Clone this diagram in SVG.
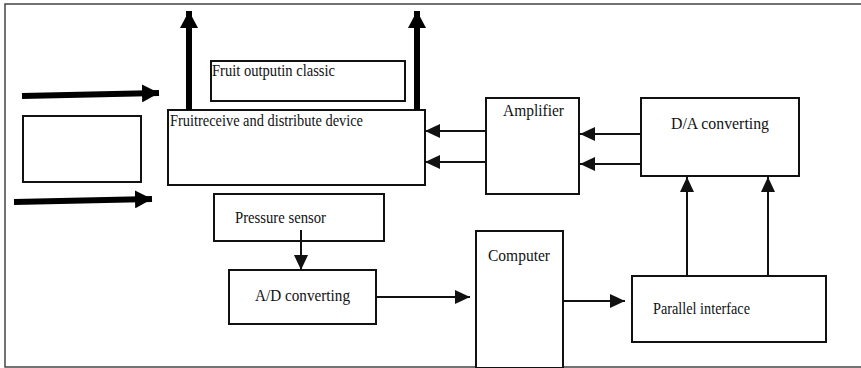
<svg xmlns="http://www.w3.org/2000/svg" width="861" height="368" viewBox="0 0 861 368">
<style>
.box{fill:#fff;stroke:#111;stroke-width:2}
text{font-family:'Liberation Serif','Times New Roman',serif;font-size:17px;fill:#111}
.thin{stroke:#111;stroke-width:2;fill:none}
.thick{stroke:#000;stroke-width:6;fill:none}
</style>
<defs>
<marker id="ah" markerUnits="userSpaceOnUse" markerWidth="16" markerHeight="16" refX="15" refY="7" orient="auto"><path d="M0 0 L15 7 L0 14 Z" fill="#111"/></marker>
<marker id="ahT" markerUnits="userSpaceOnUse" markerWidth="18" markerHeight="18" refX="17" refY="9" orient="auto"><path d="M0 0 L17 9 L0 18 Z" fill="#000"/></marker>
</defs>
<rect width="861" height="368" fill="#fff"/>
<path d="M870 4 H5 V367 H870" fill="none" stroke="#444" stroke-width="1.5"/>
<g id="left-box"><rect class="box" x="23" y="116" width="118" height="66"/></g>
<g id="fruit-output"><rect class="box" x="211" y="61" width="194" height="40"/><text x="212" y="76" textLength="123" lengthAdjust="spacingAndGlyphs">Fruit outputin classic</text></g>
<g id="fruit-receive"><rect class="box" x="168" y="110" width="257" height="75"/><text x="170" y="126" textLength="193" lengthAdjust="spacingAndGlyphs">Fruitreceive and distribute device</text></g>
<g id="amplifier"><rect class="box" x="486" y="98" width="93" height="96"/><text x="503" y="116" textLength="61" lengthAdjust="spacingAndGlyphs">Amplifier</text></g>
<g id="da"><rect class="box" x="641" y="98" width="158" height="78"/><text x="671" y="129" textLength="98" lengthAdjust="spacingAndGlyphs">D/A converting</text></g>
<g id="pressure"><rect class="box" x="214" y="194" width="170" height="47"/><text x="235" y="223" textLength="91" lengthAdjust="spacingAndGlyphs">Pressure sensor</text></g>
<g id="ad"><rect class="box" x="229" y="270" width="147" height="54"/><text x="255" y="301" textLength="95" lengthAdjust="spacingAndGlyphs">A/D converting</text></g>
<g id="computer"><rect class="box" x="476" y="231" width="87" height="137"/><text x="488" y="261" textLength="62" lengthAdjust="spacingAndGlyphs">Computer</text></g>
<g id="parallel"><rect class="box" x="632" y="276" width="194" height="66"/><text x="653" y="314" textLength="97" lengthAdjust="spacingAndGlyphs">Parallel interface</text></g>
<g id="connectors">
<path class="thick" d="M22 96 L159 93" marker-end="url(#ahT)"/>
<path class="thick" d="M14 202 L152 199" marker-end="url(#ahT)"/>
<path class="thick" d="M189 110 L189 11" marker-end="url(#ahT)"/>
<path class="thick" d="M417 110 L417 11" marker-end="url(#ahT)"/>
<path class="thin" d="M486 131 L425 131" marker-end="url(#ah)"/>
<path class="thin" d="M486 162 L425 162" marker-end="url(#ah)"/>
<path class="thin" d="M641 134 L580 134" marker-end="url(#ah)"/>
<path class="thin" d="M641 164 L580 164" marker-end="url(#ah)"/>
<path class="thin" d="M301 230 L301 270" marker-end="url(#ah)"/>
<path class="thin" d="M376 297 L470 297" marker-end="url(#ah)"/>
<path class="thin" d="M563 301 L625 301" marker-end="url(#ah)"/>
<path class="thin" d="M687 277 L687 177" marker-end="url(#ah)"/>
<path class="thin" d="M768 276 L768 177" marker-end="url(#ah)"/>
</g>
</svg>
